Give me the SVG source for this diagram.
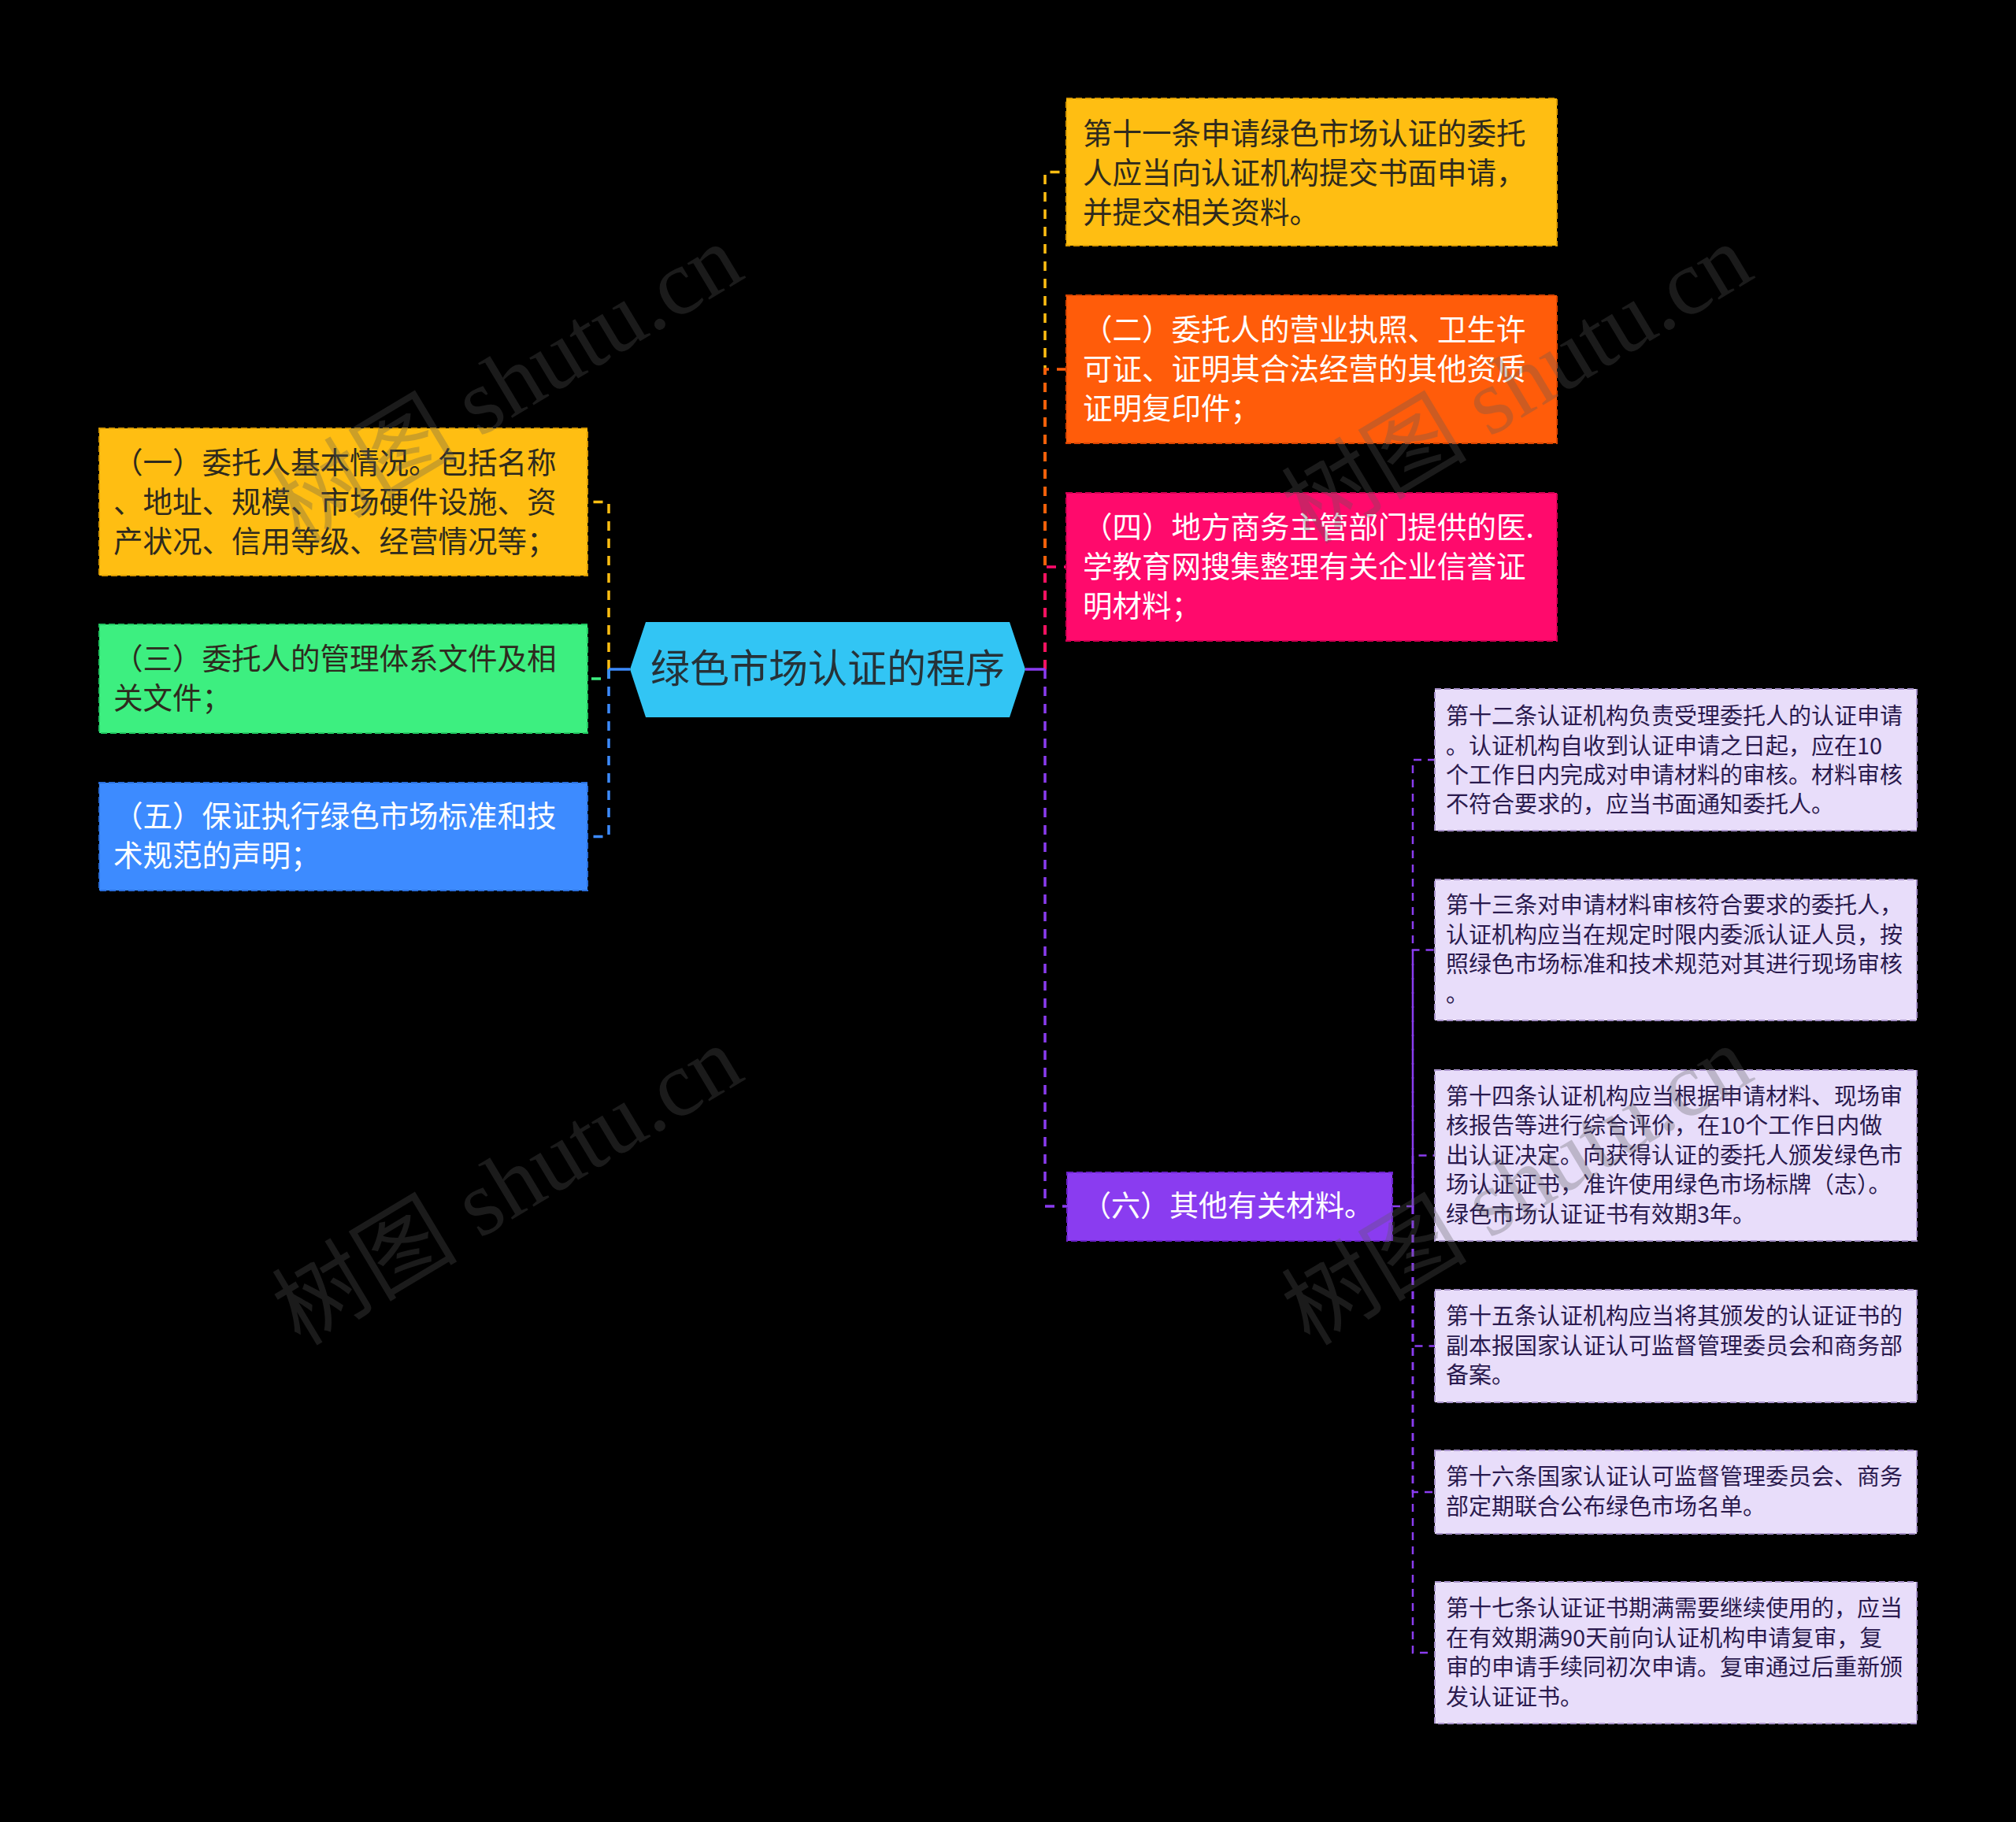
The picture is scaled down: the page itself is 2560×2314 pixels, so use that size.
<svg xmlns="http://www.w3.org/2000/svg" width="2560" height="2314" viewBox="0 0 2560 2314">
<style>
.t{font-family:"Noto Sans CJK SC","Noto Sans",sans-serif;}
.big{font-size:37.5px;}
.sm{font-size:29px;fill:#2a1a4e;}
.dk{fill:#2e2a1e;}
.wh{fill:#ffffff;}
.box{stroke-width:2;stroke-dasharray:8 4;}
.c{fill:none;stroke-width:3.5;stroke-dasharray:12 10;}
.cs{fill:none;stroke-width:2.5;stroke-dasharray:10 8;stroke:#8a3cf0;}
.wm{font-family:"Liberation Serif","Noto Sans CJK SC",serif;font-size:118px;fill:#5a5a5a;opacity:0.3;}
</style>
<rect width="2560" height="2314" fill="#000"/>
<g id="connectors">
<path class="c" stroke="#FFBE12" d="M773,850 V637.5 H746"/>
<path class="c" stroke="#3DEF80" d="M773,850 V862 H746"/>
<path class="c" stroke="#3D8BFF" d="M773,850 V1062.5 H746"/>
<path d="M773,850 H800" stroke="#3D8BFF" stroke-width="3.5" fill="none"/>
<path class="c" stroke="#FFBE12" d="M1327,850 V218.5 H1354"/>
<path class="c" stroke="#FF5C0A" d="M1327,850 V469 H1354"/>
<path class="c" stroke="#FF0A6C" d="M1327,850 V720 H1354"/>
<path class="c" stroke="#8A3CF0" d="M1327,850 V1532 H1355"/>
<path d="M1302,850 H1327" stroke="#8A3CF0" stroke-width="3.5" fill="none"/>
<path class="cs" d="M1768,1532 H1794 V965 H1822"/>
<path class="cs" d="M1794,1532 V1206.5 H1822"/>
<path class="cs" d="M1794,1532 V1467.5 H1822"/>
<path class="cs" d="M1794,1532 V1709.5 H1822"/>
<path class="cs" d="M1794,1532 V1895 H1822"/>
<path class="cs" d="M1794,1532 V2099 H1822"/>
</g>
<g id="root">
<polygon points="800,850 820,790 1282,790 1302,850 1282,911 820,911" fill="#32C5F4"/>
<text class="t" x="1051" y="867" font-size="50" fill="#263238" text-anchor="middle">绿色市场认证的程序</text>
</g>
<g id="n1">
<rect class="box" x="126" y="544" width="620" height="187" fill="#FFBE12" stroke="#d99a00"/>
<text class="t big dk"><tspan x="144" y="601">（一）委托人基本情况。包括名称</tspan><tspan x="144" y="651">、地址、规模、市场硬件设施、资</tspan><tspan x="144" y="701">产状况、信用等级、经营情况等；</tspan></text>
</g>
<g id="n3">
<rect class="box" x="126" y="793" width="620" height="138" fill="#3DEF80" stroke="#22c862"/>
<text class="t big dk"><tspan x="144" y="850">（三）委托人的管理体系文件及相</tspan><tspan x="144" y="900">关文件；</tspan></text>
</g>
<g id="n5">
<rect class="box" x="126" y="994" width="620" height="137" fill="#3D8BFF" stroke="#2a6fdd"/>
<text class="t big wh"><tspan x="144" y="1050">（五）保证执行绿色市场标准和技</tspan><tspan x="144" y="1100">术规范的声明；</tspan></text>
</g>
<g id="n11">
<rect class="box" x="1354" y="125" width="623" height="187" fill="#FFBE12" stroke="#d99a00"/>
<text class="t big dk"><tspan x="1375" y="183">第十一条申请绿色市场认证的委托</tspan><tspan x="1375" y="233">人应当向认证机构提交书面申请，</tspan><tspan x="1375" y="283">并提交相关资料。</tspan></text>
</g>
<g id="n2">
<rect class="box" x="1354" y="375" width="623" height="188" fill="#FF5C0A" stroke="#d94400"/>
<text class="t big wh"><tspan x="1375" y="432">（二）委托人的营业执照、卫生许</tspan><tspan x="1375" y="482">可证、证明其合法经营的其他资质</tspan><tspan x="1375" y="532">证明复印件；</tspan></text>
</g>
<g id="n4">
<rect class="box" x="1354" y="626" width="623" height="188" fill="#FF0A6C" stroke="#d10052"/>
<text class="t big wh"><tspan x="1375" y="683">（四）地方商务主管部门提供的医.</tspan><tspan x="1375" y="733">学教育网搜集整理有关企业信誉证</tspan><tspan x="1375" y="783">明材料；</tspan></text>
</g>
<g id="n6">
<rect class="box" x="1355" y="1489" width="413" height="87" fill="#8A3CF0" stroke="#6c22cc"/>
<text class="t wh" x="1374" y="1545" font-size="37">（六）其他有关材料。</text>
</g>
<g id="n12">
<rect class="box" x="1822" y="875" width="612" height="180" fill="#E8DDFA" stroke="#a590c8"/>
<text class="t sm"><tspan x="1836" y="920">第十二条认证机构负责受理委托人的认证申请</tspan><tspan x="1836" y="958">。认证机构自收到认证申请之日起，应在10</tspan><tspan x="1836" y="995">个工作日内完成对申请材料的审核。材料审核</tspan><tspan x="1836" y="1032">不符合要求的，应当书面通知委托人。</tspan></text>
</g>
<g id="n13">
<rect class="box" x="1822" y="1117" width="612" height="179" fill="#E8DDFA" stroke="#a590c8"/>
<text class="t sm"><tspan x="1836" y="1160">第十三条对申请材料审核符合要求的委托人，</tspan><tspan x="1836" y="1198">认证机构应当在规定时限内委派认证人员，按</tspan><tspan x="1836" y="1235">照绿色市场标准和技术规范对其进行现场审核</tspan><tspan x="1836" y="1273">。</tspan></text>
</g>
<g id="n14">
<rect class="box" x="1822" y="1359" width="612" height="217" fill="#E8DDFA" stroke="#a590c8"/>
<text class="t sm"><tspan x="1836" y="1403">第十四条认证机构应当根据申请材料、现场审</tspan><tspan x="1836" y="1440">核报告等进行综合评价，在10个工作日内做</tspan><tspan x="1836" y="1478">出认证决定。向获得认证的委托人颁发绿色市</tspan><tspan x="1836" y="1515">场认证证书，准许使用绿色市场标牌（志）。</tspan><tspan x="1836" y="1553">绿色市场认证证书有效期3年。</tspan></text>
</g>
<g id="n15">
<rect class="box" x="1822" y="1638" width="612" height="143" fill="#E8DDFA" stroke="#a590c8"/>
<text class="t sm"><tspan x="1836" y="1682">第十五条认证机构应当将其颁发的认证证书的</tspan><tspan x="1836" y="1720">副本报国家认证认可监督管理委员会和商务部</tspan><tspan x="1836" y="1757">备案。</tspan></text>
</g>
<g id="n16">
<rect class="box" x="1822" y="1842" width="612" height="106" fill="#E8DDFA" stroke="#a590c8"/>
<text class="t sm"><tspan x="1836" y="1886">第十六条国家认证认可监督管理委员会、商务</tspan><tspan x="1836" y="1924">部定期联合公布绿色市场名单。</tspan></text>
</g>
<g id="n17">
<rect class="box" x="1822" y="2009" width="612" height="180" fill="#E8DDFA" stroke="#a590c8"/>
<text class="t sm"><tspan x="1836" y="2053">第十七条认证证书期满需要继续使用的，应当</tspan><tspan x="1836" y="2091">在有效期满90天前向认证机构申请复审，复</tspan><tspan x="1836" y="2128">审的申请手续同初次申请。复审通过后重新颁</tspan><tspan x="1836" y="2166">发认证证书。</tspan></text>
</g>
<g id="watermarks">
<text class="wm" text-anchor="middle" transform="translate(665,522) rotate(-31)">树图 shutu.cn</text>
<text class="wm" text-anchor="middle" transform="translate(1947,522) rotate(-31)">树图 shutu.cn</text>
<text class="wm" text-anchor="middle" transform="translate(665,1540) rotate(-31)">树图 shutu.cn</text>
<text class="wm" text-anchor="middle" transform="translate(1947,1540) rotate(-31)">树图 shutu.cn</text>
</g>
</svg>
